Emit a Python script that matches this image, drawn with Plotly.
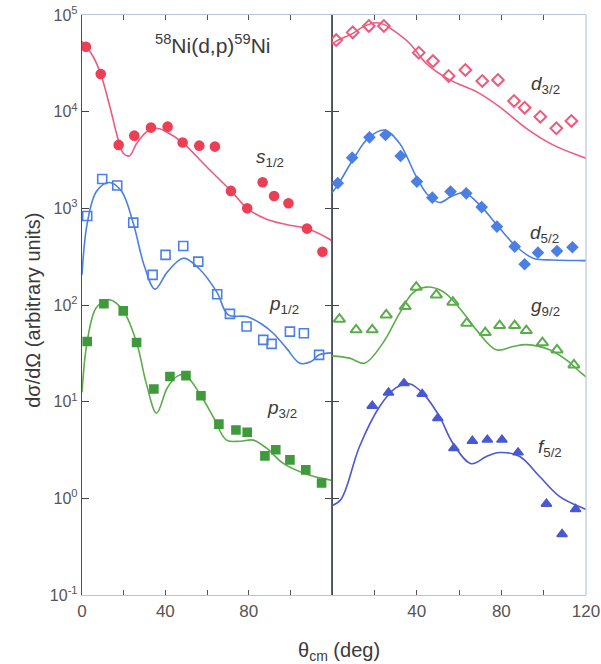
import plotly.graph_objects as go

# ---------------- data ----------------
# left panel
s12_x = [1.9, 9.0, 17.6, 25.1, 33.1, 41.1, 48.3, 56.3, 63.8, 71.5, 79.3, 86.7, 92.2, 99.1, 108.0, 115.4]
s12_y = [47000, 24500, 4530, 5650, 6840, 7000, 4790, 4450, 4350, 1515, 1000, 1860, 1343, 1130, 617, 356]
s12_cx = [0, 5.4, 9.0, 13.4, 17.4, 19.8, 22.7, 26.2, 31.0, 35.8, 40.6, 48.3, 59.8, 71.5, 79.3, 88.6, 98.0, 108.0, 118.0, 120]
s12_cy = [53500, 37000, 24500, 11200, 5130, 3720, 3480, 4680, 6170, 6730, 6170, 4790, 2690, 1515, 1000, 770, 680, 617, 490, 460]

p12_x = [2.5, 9.7, 16.9, 24.6, 33.9, 40.1, 48.6, 55.8, 64.9, 71.0, 79.0, 87.0, 91.0, 99.8, 106.5, 113.8]
p12_y = [834, 2010, 1720, 711, 205, 330, 408, 281, 129, 81, 60, 43.6, 39.6, 53, 51, 30.5]
p12_cx = [0, 2.5, 7.0, 13.0, 19.0, 24.6, 30.0, 35.0, 41.0, 48.6, 56.0, 64.8, 70.2, 79.0, 86.0, 91.8, 98.0, 104.6, 110.0, 113.8, 120]
p12_cy = [205, 700, 1500, 1850, 1500, 700, 250, 146, 220, 305, 240, 135, 79, 76, 64, 51, 36, 25, 26, 30.5, 32]

p32_x = [2.5, 10.5, 19.8, 26.2, 34.5, 42.2, 49.9, 57.1, 65.7, 73.9, 79.3, 87.8, 93.0, 99.8, 107.4, 115.0]
p32_y = [41.9, 103, 87, 41, 13.5, 18.2, 18.6, 11.5, 5.85, 5.1, 4.83, 2.75, 3.18, 2.5, 1.97, 1.44]
p32_cx = [0, 2.5, 7.0, 13.4, 19.8, 26.2, 31.0, 35.8, 41.0, 46.0, 49.4, 57.1, 62.9, 69.4, 76.0, 82.2, 88.6, 96.6, 107.8, 119.0, 120]
p32_cy = [12.5, 41.9, 95, 113, 87, 41, 15, 7.6, 14, 18.5, 19, 11.5, 7.0, 4.0, 3.9, 4.0, 3.3, 2.3, 1.78, 1.55, 1.53]

# right panel
d32_x = [2.0, 9.8, 17.4, 24.5, 41.0, 47.7, 55.1, 63.0, 71.0, 78.4, 86.0, 91.0, 98.4, 106.0, 113.1]
d32_y = [55000, 66100, 77000, 77000, 40800, 33400, 23400, 27000, 20800, 21300, 12900, 11000, 8870, 6730, 8020]
d32_cx = [0, 2.0, 9.8, 15.0, 20.9, 24.5, 28.7, 36.6, 44.5, 55.6, 68.2, 79.2, 91.8, 104.4, 117.0, 120]
d32_cy = [49800, 53700, 64600, 76000, 83000, 80000, 70000, 51000, 31600, 21300, 16100, 11200, 6730, 4530, 3480, 3300]

d52_x = [2.7, 9.5, 17.7, 25.3, 32.4, 40.1, 47.4, 56.0, 63.4, 70.7, 77.9, 86.3, 91.0, 97.3, 106.3, 113.6]
d52_y = [1820, 3340, 5430, 5740, 3480, 1890, 1290, 1490, 1430, 1030, 647, 402, 264, 348, 362, 396]
d52_cx = [0, 2.7, 9.8, 17.0, 24.8, 31.9, 39.8, 45.0, 50.8, 56.5, 62.6, 70.5, 79.2, 87.1, 95.0, 104.4, 117.8, 120]
d52_cy = [1450, 1740, 3160, 5300, 6460, 4710, 2130, 1400, 1150, 1330, 1450, 1040, 622, 402, 305, 292, 288, 288]

g92_x = [3.5, 11.4, 19.0, 25.6, 34.6, 39.8, 49.3, 57.1, 63.7, 72.4, 79.2, 86.3, 91.8, 99.4, 106.3, 114.3]
g92_y = [71.3, 55.3, 55.3, 79, 96.4, 153, 127, 107, 64.8, 51.9, 61.3, 61.3, 54.4, 40.8, 34.3, 24]
g92_cx = [0, 8.3, 15.4, 24.0, 31.9, 38.0, 44.5, 52.4, 60.3, 68.2, 77.6, 85.5, 91.8, 102.8, 110.7, 117.8, 120]
g92_cy = [29.8, 28.2, 25, 40.3, 82, 132, 153, 138, 92.7, 55.3, 34.4, 37.2, 38.9, 34.4, 27, 19.7, 18]

f52_x = [19.0, 26.7, 34.0, 42.6, 50.0, 57.6, 66.3, 73.4, 80.3, 87.9, 101.3, 108.7, 115.1]
f52_y = [9.05, 12.4, 15.5, 12.0, 6.75, 3.3, 3.93, 4.03, 4.03, 2.98, 0.877, 0.426, 0.773]
f52_cx = [0, 4.3, 13.0, 22.5, 30.0, 36.6, 43.7, 50.8, 57.1, 65.8, 72.9, 79.2, 88.7, 98.1, 107.6, 118.6, 120]
f52_cy = [0.84, 0.98, 3.44, 8.9, 13.8, 15.3, 11.7, 7.0, 3.72, 2.28, 2.71, 2.98, 2.71, 1.68, 1.04, 0.79, 0.77]

ytick_vals = [0.1, 1, 10, 100, 1000, 10000, 100000]
ytick_text = ["10<sup>-1</sup>", "10<sup>0</sup>", "10<sup>1</sup>", "10<sup>2</sup>",
              "10<sup>3</sup>", "10<sup>4</sup>", "10<sup>5</sup>"]
xtick_vals = [0, 20, 40, 60, 80, 100, 120]
xtick_left = ["0", "", "40", "", "80", "", ""]
xtick_right = ["", "", "40", "", "80", "", "120"]

# ---------------- styles ----------------
RED = "#ec3f55"
PINK = "#ee5a7c"
BLUE = "#4c7fe4"
GREEN = "#5aad4a"
GREEN_M = "#3f9a3c"
VIOLET = "#4a58d2"
TXT = "#3a3a3a"
FONT = "Liberation Sans, Arial"

fig = go.Figure()

def curve(x, y, color, xa):
    fig.add_trace(go.Scatter(x=x, y=y, mode="lines", xaxis=xa, yaxis="y" if xa == "x" else "y2",
                             line=dict(color=color, width=1.6, shape="spline", smoothing=1.0),
                             hoverinfo="skip", showlegend=False))

def pts(x, y, color, symbol, size, xa, lw=1.6):
    fig.add_trace(go.Scatter(x=x, y=y, mode="markers", xaxis=xa, yaxis="y" if xa == "x" else "y2",
                             marker=dict(color=color, symbol=symbol, size=size,
                                         line=dict(color=color, width=lw)),
                             showlegend=False))

curve(s12_cx, s12_cy, PINK, "x")
pts(s12_x, s12_y, RED, "circle", 9, "x")
curve(p12_cx, p12_cy, BLUE, "x")
pts(p12_x, p12_y, BLUE, "square-open", 9, "x")
curve(p32_cx, p32_cy, GREEN, "x")
pts(p32_x, p32_y, GREEN_M, "square", 8, "x")

curve(d32_cx, d32_cy, PINK, "x2")
pts(d32_x, d32_y, PINK, "diamond-open", 9, "x2", 2)
curve(d52_cx, d52_cy, BLUE, "x2")
pts(d52_x, d52_y, BLUE, "diamond", 8, "x2")
curve(g92_cx, g92_cy, GREEN, "x2")
pts(g92_x, g92_y, GREEN, "triangle-up-open", 10, "x2", 2)
curve(f52_cx, f52_cy, VIOLET, "x2")
pts(f52_x, f52_y, VIOLET, "triangle-up", 9, "x2")

split = 250 / 504

axis_common = dict(range=[0, 120], tickvals=xtick_vals, ticks="inside", ticklen=5, tickcolor="#555",
                   showgrid=False, zeroline=False, showline=True, linecolor="#b9c6da", linewidth=1.2,
                   mirror="ticks", automargin=False,
                   tickfont=dict(family=FONT, size=17, color="#555"))

fig.update_layout(
    width=601, height=664,
    margin=dict(l=82, r=15, t=15, b=69),
    paper_bgcolor="white", plot_bgcolor="white",
    xaxis=dict(domain=[0, split], ticktext=xtick_left, anchor="y", **axis_common),
    xaxis2=dict(domain=[split, 1], ticktext=xtick_right, anchor="y2", **axis_common),
    yaxis=dict(type="log", range=[-1, 5], tickvals=ytick_vals, ticktext=ytick_text,
               ticks="inside", ticklen=7, tickcolor="#444", showgrid=False, zeroline=False,
               showline=True, linecolor="#4a4f5c", linewidth=1.4, mirror="ticks", anchor="x",
               automargin=False, tickfont=dict(family=FONT, size=16, color="#555")),
    yaxis2=dict(type="log", range=[-1, 5], matches="y", tickvals=ytick_vals, showticklabels=False,
                ticks="inside", ticklen=7, tickcolor="#444", showgrid=False, zeroline=False,
                showline=True, linecolor="#5a6478", linewidth=1.4, anchor="x2", automargin=False),
    font=dict(family=FONT, color=TXT),
)

# right border lighter
fig.add_shape(type="line", xref="paper", yref="paper", x0=1, x1=1, y0=0, y1=1,
              line=dict(color="#b9c6da", width=1.2))

ann = []
def label(text, x, y, xref, yref, size=19, **kw):
    ann.append(dict(text=text, x=x, y=y, xref=xref, yref=yref, showarrow=False,
                    font=dict(family=FONT, size=size, color=TXT), **kw))

label("<sup>58</sup>Ni(d,p)<sup>59</sup>Ni", 63, 4.7, "x", "y", size=21)
label("<i>s</i><sub>1/2</sub>", 90, 3.52, "x", "y")
label("<i>p</i><sub>1/2</sub>", 97, 2.0, "x", "y")
label("<i>p</i><sub>3/2</sub>", 96, 0.92, "x", "y")
label("<i>d</i><sub>3/2</sub>", 101, 4.28, "x2", "y2")
label("<i>d</i><sub>5/2</sub>", 100.5, 2.73, "x2", "y2")
label("<i>g</i><sub>9/2</sub>", 101, 1.98, "x2", "y2")
label("<i>f</i><sub>5/2</sub>", 103, 0.52, "x2", "y2")
label("dσ/dΩ (arbitrary units)", -0.123, 0.49, "paper", "paper", size=20, textangle=-90)
label("θ<sub>cm</sub> (deg)", 0.51, -0.097, "paper", "paper", size=20, yanchor="middle")

fig.update_layout(annotations=ann)
fig.write_html("out.html")
